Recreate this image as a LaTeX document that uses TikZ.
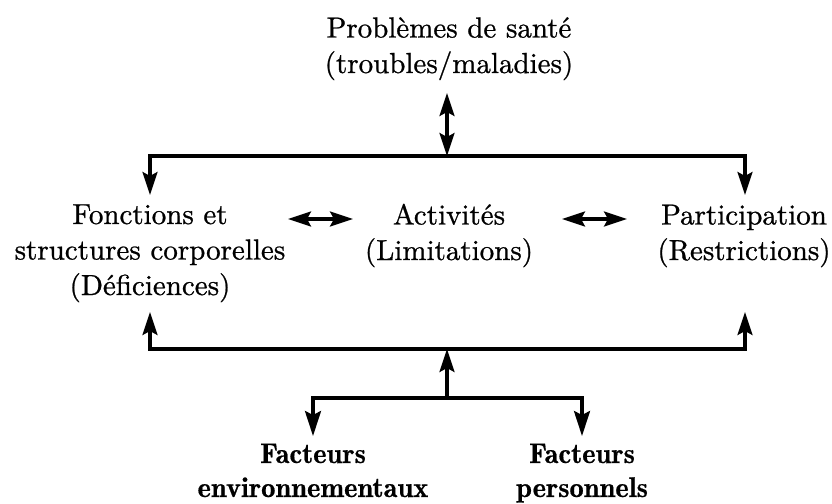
\documentclass[tikz,border=0pt]{standalone}
\usepackage{fontspec}
\newfontfamily\heavyrm{lmroman10-regular.otf}[FakeBold=0.8]
\newfontfamily\heavydemi{lmromandemi10-regular.otf}[FakeBold=0.6]
\usetikzlibrary{arrows.meta}
\begin{document}
\begin{tikzpicture}[x=1pt,y=-1pt,line width=3.1pt,
  tip/.tip={Stealth[length=23pt,width=15pt,inset=4pt]},
  bigtip/.tip={Stealth[length=25pt,width=16pt,inset=4pt]},
  arr/.style={-tip},
  barr/.style={-bigtip},
  dbl/.style={tip-tip},
  lbl/.style={align=center,inner sep=0pt,anchor=base,font=\fontsize{29}{35.5}\heavyrm},
  blbl/.style={align=center,inner sep=0pt,anchor=base,font=\fontsize{28.5}{34}\heavydemi}]
\useasboundingbox (0,0) rectangle (832,503);
% texts (anchor base = baseline of the last line)
\node[lbl] (sante) at (449,73) {Problèmes de santé\\(troubles/maladies)};
\node[lbl] (fonc) at (150,295) {Fonctions et\\structures corporelles\\(Déficiences)};
\node[lbl] (act) at (449,260) {Activités\\(Limitations)};
\node[lbl] (part) at (744,260) {Participation\\(Restrictions)};
\node[blbl] (env) at (313,497) {Facteurs\\environnementaux};
\node[blbl] (pers) at (582,497) {Facteurs\\personnels};
% named points
\coordinate (st) at (447,93);
\coordinate (tb) at (447,156);
\coordinate (tl) at (150,195);
\coordinate (tr) at (745,195);
\coordinate (bl) at (150,312);
\coordinate (br) at (745,312);
\coordinate (bb) at (447,349);
\coordinate (fb) at (447,398);
\coordinate (el) at (313,436);
\coordinate (pr) at (582,436);
\coordinate (a1) at (288,219);
\coordinate (a2) at (353,219);
\coordinate (a3) at (562,219);
\coordinate (a4) at (627,219);
% connectors
\draw[dbl] (st) -- (tb);
\draw[arr] (tb) -| (tl);
\draw[arr] (tb) -| (tr);
\draw[dbl] (a1) -- (a2);
\draw[dbl] (a3) -- (a4);
\draw[arr] (bb) -| (bl);
\draw[arr] (bb) -| (br);
\draw[arr] (fb) -- (bb);
\draw[barr] (fb) -| (el);
\draw[barr] (fb) -| (pr);
\end{tikzpicture}
\end{document}
